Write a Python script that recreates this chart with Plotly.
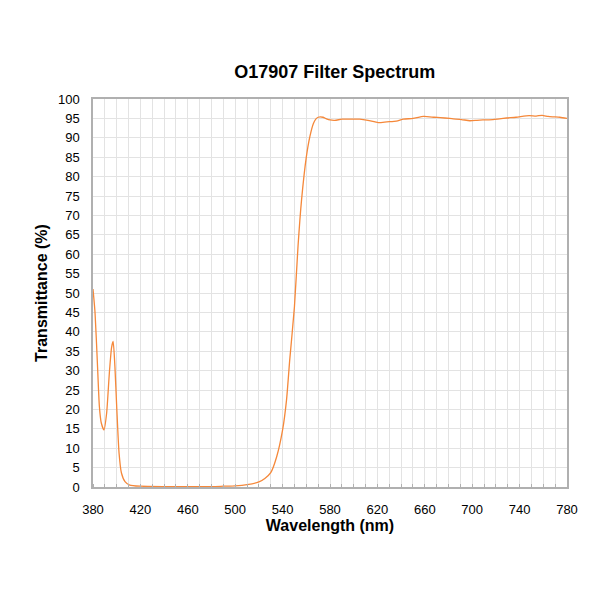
import plotly.graph_objects as go

wavelength = [380, 381.7, 383.7, 385.4, 387, 389.3, 391.5, 393.8, 395.7, 397, 398.5, 400, 402, 404, 407,
              411, 420, 440, 460, 480, 490, 500, 510, 520, 525, 530, 535, 540, 543.3, 546, 550, 553,
              556, 560, 563, 566, 568, 570, 574, 577, 580, 584, 590, 597, 605, 612, 620.8, 628, 636,
              642, 650, 659, 668, 673, 681, 684, 691, 698, 704, 709, 717.5, 723, 729, 737, 748, 754,
              759, 764, 768, 774, 780]
transmittance = [51.0, 45.0, 32.0, 20.7, 16.5, 14.7, 19.0, 29.4, 36.0, 37.5, 31.0, 20.7, 8.7, 3.6, 1.4,
                 0.5, 0.2, 0.1, 0.1, 0.1, 0.2, 0.3, 0.6, 1.3, 2.2, 3.7, 7.8, 14.7, 22.4, 32.7, 46.5, 62.0,
                 74.0, 85.0, 90.3, 93.7, 94.8, 95.3, 95.3, 94.9, 94.6, 94.5, 94.8, 94.8, 94.8, 94.5, 93.9,
                 94.1, 94.3, 94.8, 95.0, 95.5, 95.3, 95.2, 95.0, 94.9, 94.7, 94.4, 94.5, 94.6, 94.7, 94.9,
                 95.1, 95.3, 95.7, 95.6, 95.8, 95.5, 95.4, 95.3, 95.0]

x_ticks = list(range(380, 781, 40))
y_ticks = list(range(0, 101, 5))

font_name = "Liberation Sans, Arial"

fig = go.Figure(go.Scatter(
    x=wavelength, y=transmittance, mode="lines",
    line=dict(color="#F5883A", width=1.3, shape="spline", smoothing=0.6),
))

fig.update_xaxes(
    range=[380, 780],
    tickvals=x_ticks,
    showgrid=True, gridcolor="#E3E3E3", gridwidth=1,
    minor=dict(dtick=10, showgrid=True, gridcolor="#E3E3E3", ticks="inside", ticklen=3, tickcolor="#B0B0B0"),
    showline=True, linecolor="#B0B0B0", linewidth=1.5, mirror=True,
    ticks="", zeroline=False, ticklabelstandoff=10,
    tickfont=dict(family=font_name, size=13, color="black"),
    title=dict(text="<b>Wavelength (nm)</b>", standoff=3,
               font=dict(family=font_name, size=16, color="black")),
)

fig.update_yaxes(
    range=[0, 100],
    tickvals=y_ticks,
    showgrid=True, gridcolor="#E3E3E3", gridwidth=1,
    showline=True, linecolor="#B0B0B0", linewidth=1.5, mirror=True,
    ticks="", zeroline=False, ticklabelstandoff=9,
    tickfont=dict(family=font_name, size=13, color="black"),
    title=dict(text="<b>Transmittance (%)</b>", standoff=6,
               font=dict(family=font_name, size=16, color="black")),
)

# page has an 8px body margin, so the figure is drawn at 592 and offsets adjusted
fig.update_layout(
    width=592, height=592,
    margin=dict(l=85, r=33, t=91, b=113),
    title=dict(text="<b>O17907 Filter Spectrum</b>", x=0.552, xanchor="center", y=0.892, yanchor="middle",
               font=dict(family=font_name, size=18, color="black")),
    plot_bgcolor="white", paper_bgcolor="white",
    showlegend=False,
)

fig.write_html("out.html")
